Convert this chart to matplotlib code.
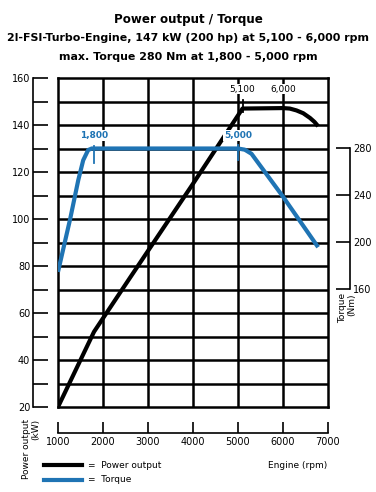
import matplotlib
matplotlib.use("Agg")
import matplotlib.pyplot as plt

# ---- data ----
rpm_power = [1000, 1800, 2600, 4000, 5100, 6000, 6150, 6300, 6450, 6600, 6700, 6780]
power_kw = [20, 52, 75, 115, 147, 147.2, 147, 146.2, 145, 143, 141.3, 139.5]

rpm_torque = [1000, 1270, 1450, 1560, 1670, 1750, 5000, 5150, 5300, 6000, 6780]
torque_nm = [175, 220, 253, 270, 278.7, 280, 280, 279, 275.5, 239, 196]

x_ticks = [1000, 2000, 3000, 4000, 5000, 6000, 7000]
kw_ticks = [20, 40, 60, 80, 100, 120, 140, 160]
nm_ticks = [160, 200, 240, 280]

title_lines = ["Power output / Torque",
               "2l-FSI-Turbo-Engine, 147 kW (200 hp) at 5,100 - 6,000 rpm",
               "max. Torque 280 Nm at 1,800 - 5,000 rpm"]

BLUE = "#1f74b4"
W, H = 376, 492

def fx(x):
    return x / W

def fy(y):
    return 1 - y / H

fig = plt.figure(figsize=(W / 100, H / 100), dpi=100)
plt.rcParams['font.family'] = ['DejaVu Sans']

# main grid axes
L, R, T, B = 58, 328, 78, 407
ax = fig.add_axes([fx(L), fy(B), (R - L) / W, (B - T) / H])
ax.set_xlim(1000, 7000)
ax.set_ylim(20, 160)
ax.set_xticks(range(2000, 7000, 1000))
ax.set_yticks(range(30, 160, 10))
ax.tick_params(length=0, labelleft=False, labelbottom=False)
ax.grid(True, color="black", lw=1.8)
for s in ax.spines.values():
    s.set_linewidth(1.8)
ax.set_axisbelow(True)

ax.plot(rpm_power, power_kw, color="black", lw=3, solid_capstyle="butt",
        solid_joinstyle="round", zorder=5)

# torque on twin axis: kW = Nm/2 - 10
ax2 = ax.twinx()
ax2.set_ylim(60, 340)
for s in ["left", "top", "bottom"]:
    ax2.spines[s].set_visible(False)
ax2.spines["right"].set_position(("outward", 22 * 0.72))
ax2.spines["right"].set_bounds(160, 280)
ax2.spines["right"].set_linewidth(1.2)
ax2.set_yticks(nm_ticks)
ax2.tick_params(axis="y", direction="in", length=10, width=1.2, labelsize=7, pad=2)
ax2.plot(rpm_torque, torque_nm, color=BLUE, lw=3, solid_capstyle="butt",
         solid_joinstyle="round", zorder=5)

# markers / annotations
ax2.plot([1800, 1800], [282, 268], color=BLUE, lw=1.3, zorder=6)
ax2.plot([5000, 5000], [283, 270], color=BLUE, lw=1.3, zorder=6)
ax.plot([5100, 5100], [150.6, 145.6], color="black", lw=1.3, zorder=6)
bb = dict(facecolor="white", edgecolor="none", pad=0.6)
ax.text(1800, 135.5, "1,800", color=BLUE, fontsize=6.5, fontweight="bold",
        ha="center", va="center", bbox=bb, zorder=7)
ax.text(5000, 135.5, "5,000", color=BLUE, fontsize=6.5, fontweight="bold",
        ha="center", va="center", bbox=bb, zorder=7)
ax.text(5100, 155.3, "5,100", color="black", fontsize=6.5,
        ha="center", va="center", bbox=bb, zorder=7)
ax.text(6000, 155.3, "6,000", color="black", fontsize=6.5,
        ha="center", va="center", bbox=bb, zorder=7)

# left scale
axL = fig.add_axes([fx(33), fy(B), 0.0001, (B - T) / H])
axL.set_ylim(20, 160)
axL.patch.set_visible(False)
for s in ["right", "top", "bottom"]:
    axL.spines[s].set_visible(False)
axL.spines["left"].set_linewidth(1.2)
axL.set_xticks([])
axL.set_yticks(range(20, 161, 10))
axL.set_yticklabels([str(v) if v in kw_ticks else "" for v in range(20, 161, 10)])
axL.tick_params(axis="y", direction="in", length=10.5, width=1.2, labelsize=7, pad=2)

# bottom scale
axB = fig.add_axes([fx(L), fy(433), (R - L) / W, 0.0001])
axB.set_xlim(1000, 7000)
axB.patch.set_visible(False)
for s in ["left", "right", "top"]:
    axB.spines[s].set_visible(False)
axB.spines["bottom"].set_linewidth(1.2)
axB.set_yticks([])
axB.set_xticks(x_ticks)
axB.tick_params(axis="x", direction="in", length=8, width=1.2, labelsize=7, pad=3)

# titles
fig.text(0.5, fy(19), title_lines[0], ha="center", va="center", fontsize=8.6, fontweight="bold")
fig.text(0.5, fy(38), title_lines[1], ha="center", va="center", fontsize=7.9, fontweight="bold")
fig.text(0.5, fy(57), title_lines[2], ha="center", va="center", fontsize=7.9, fontweight="bold")

# axis labels
fig.text(fx(31), fy(419), "Power output\n(kW)", rotation=90, ha="center", va="top",
         multialignment="right", fontsize=6.5, linespacing=1.0)
fig.text(fx(347), fy(293), "Torque\n(Nm)", rotation=90, ha="center", va="top",
         multialignment="right", fontsize=6.5, linespacing=1.0)
fig.text(fx(268), fy(465), "Engine (rpm)", ha="left", va="center", fontsize=6.5)

# legend
fig.add_artist(plt.Line2D([fx(44), fx(82)], [fy(465), fy(465)], color="black", lw=3))
fig.add_artist(plt.Line2D([fx(44), fx(82)], [fy(480), fy(480)], color=BLUE, lw=3))
fig.text(fx(88), fy(465), "=  Power output", ha="left", va="center", fontsize=6.5)
fig.text(fx(88), fy(480), "=  Torque", ha="left", va="center", fontsize=6.5)

fig.savefig("out.png", dpi=100)
